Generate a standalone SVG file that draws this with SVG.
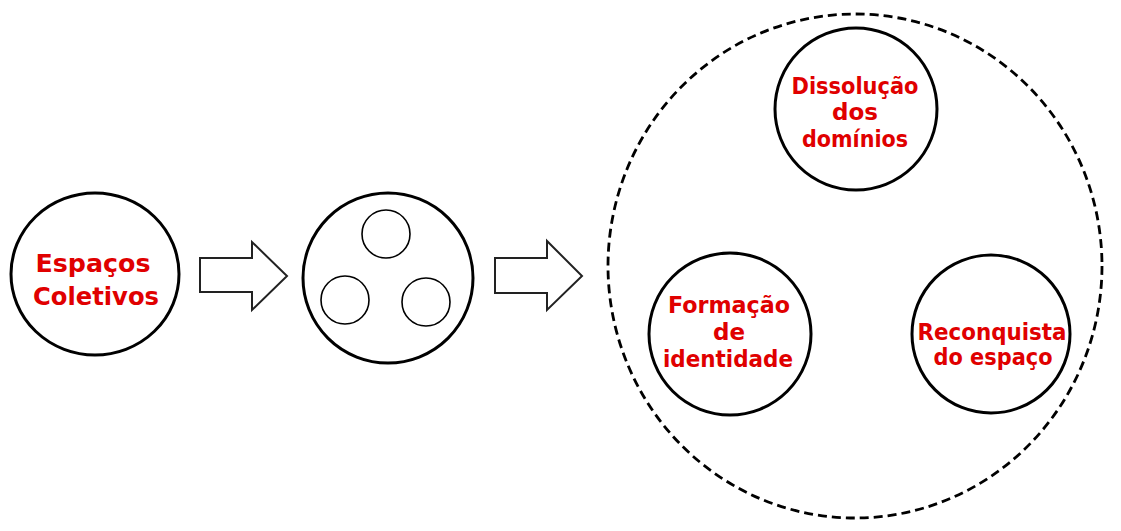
<svg xmlns="http://www.w3.org/2000/svg" width="1121" height="531" viewBox="0 0 1121 531">
<style>
.big{fill:#fff;stroke:#000;stroke-width:3}
.small{fill:#fff;stroke:#000;stroke-width:1.6}
.arrow{fill:#fff;stroke:#222;stroke-width:2;stroke-linejoin:miter}
.dash{fill:none;stroke:#000;stroke-width:2.8;stroke-dasharray:9 5}
.lbl{font-family:"DejaVu Sans","Liberation Sans",sans-serif;font-weight:bold;font-size:23px;fill:#e00000;text-anchor:middle}
.lg{font-size:25px}
</style>
<rect width="1121" height="531" fill="#fff"/>
<g id="group-dashed">
<ellipse class="dash" cx="855" cy="266" rx="247" ry="252"/>
</g>
<g id="connectors">
<path class="arrow" d="M200,258 H252 V242 L287,276 L252,310 V292 H200 Z"/>
<path class="arrow" d="M495,258 H547 V241 L582,276 L547,310 V293 H495 Z"/>
</g>
<g id="node-espacos">
<ellipse class="big" cx="95" cy="274" rx="84" ry="81"/>
<text class="lbl lg" x="93" y="272" textLength="115" lengthAdjust="spacingAndGlyphs">Espaços</text>
<text class="lbl lg" x="96" y="305" textLength="126" lengthAdjust="spacingAndGlyphs">Coletivos</text>
</g>
<g id="node-split">
<circle class="big" cx="388" cy="278" r="85"/>
<circle class="small" cx="386" cy="234" r="24"/>
<circle class="small" cx="345" cy="300" r="24"/>
<circle class="small" cx="426" cy="302" r="24"/>
</g>
<g id="node-dissolucao">
<circle class="big" cx="856" cy="109" r="81"/>
<text class="lbl" x="855" y="94" textLength="127" lengthAdjust="spacingAndGlyphs">Dissolução</text>
<text class="lbl" x="855" y="120">dos</text>
<text class="lbl" x="855" y="147" textLength="106" lengthAdjust="spacingAndGlyphs">domínios</text>
</g>
<g id="node-formacao">
<circle class="big" cx="730" cy="334" r="81"/>
<text class="lbl" x="729" y="313" textLength="122" lengthAdjust="spacingAndGlyphs">Formação</text>
<text class="lbl" x="729" y="340">de</text>
<text class="lbl" x="728" y="367" textLength="130" lengthAdjust="spacingAndGlyphs">identidade</text>
</g>
<g id="node-reconquista">
<circle class="big" cx="991" cy="334" r="79"/>
<text class="lbl" x="992" y="340" textLength="149" lengthAdjust="spacingAndGlyphs">Reconquista</text>
<text class="lbl" x="993" y="365" textLength="119" lengthAdjust="spacingAndGlyphs">do espaço</text>
</g>
</svg>
